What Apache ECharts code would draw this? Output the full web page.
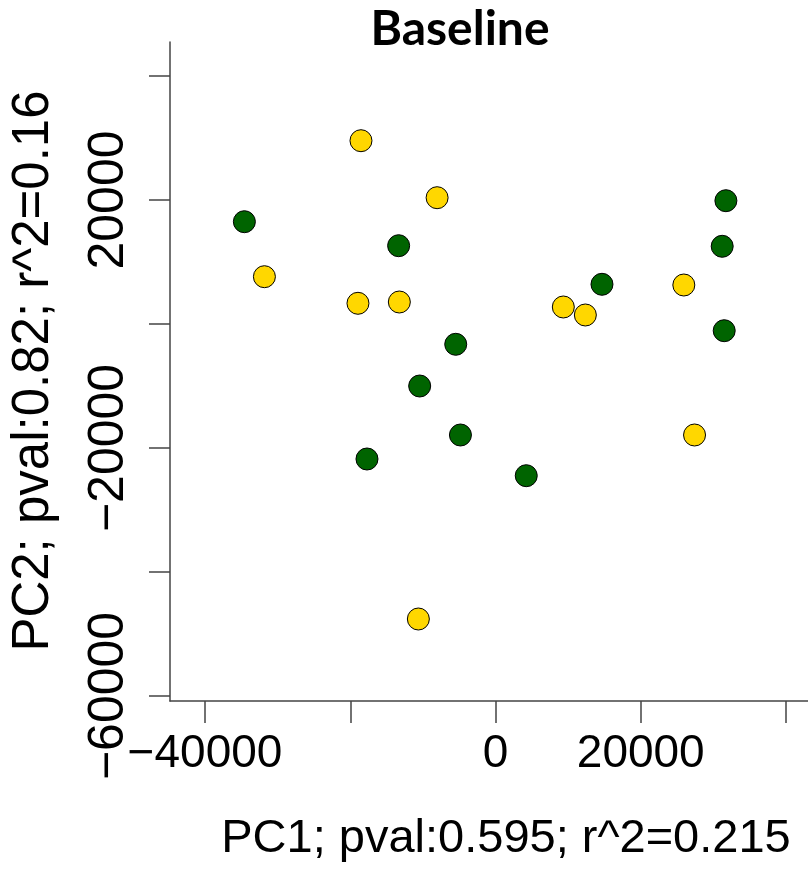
<!DOCTYPE html>
<html>
<head>
<meta charset="utf-8">
<script src="https://cdn.jsdelivr.net/npm/echarts@6/dist/echarts.min.js"></script>
<style>
html,body{margin:0;padding:0;background:#fff;}
#chart{width:808px;height:879px;}
</style>
</head>
<body>
<div id="chart"></div>
<script>
// ---- Data ----
var yellowPC1 = [-18524, -8041, -31820, -18938, -13241, 9338, 12372, 25931, 27407, -10621];
var yellowPC2 = [29565, 20371, 7629, 3339, 3548, 2742, 1452, 6290, -17903, -47581];
var greenPC1 = [-34579, -13338, 31724, 31214, 14662, 31490, -5476, -10441, -4828, -17696, 4234];
var greenPC2 = [16500, 12629, 19887, 12532, 6403, -1081, -3274, -10000, -17903, -21774, -24468];
var xTicks = [-40000, -20000, 0, 20000, 40000];
var yTicks = [-60000, -40000, -20000, 0, 20000, 40000];
var xLabelsShown = [-40000, 0, 20000];
var yLabelsShown = [-60000, -20000, 20000];
var titleText = 'Baseline';
var xTitle = 'PC1; pval:0.595; r^2=0.215';
var yTitle = 'PC2; pval:0.82; r^2=0.16';

function pairs(xs, ys){ return xs.map(function(x,i){ return [x, ys[i]]; }); }
function fmt(shown){
  return function(v){
    if (shown.indexOf(v) < 0) return '';
    return v < 0 ? '\u2212' + Math.abs(v) : String(v);
  };
}
var axisColor = '#444';
var labelFont = 'Liberation Sans';

var chart = echarts.init(document.getElementById('chart'), null, {renderer:'canvas'});
chart.setOption({
  backgroundColor: '#ffffff',
  animation: false,
  grid: [
    {left:170, top:42, right:0, bottom:178},
    {left:205, top:76, right:22, bottom:183}
  ],
  xAxis: [
    {gridIndex:0, type:'value', min:0, max:1, axisLine:{show:true, onZero:false, lineStyle:{color:axisColor, width:1.5}},
     axisTick:{show:false}, axisLabel:{show:false}, splitLine:{show:false}},
    {gridIndex:1, type:'value', min:xTicks[0], max:xTicks[xTicks.length-1], interval:20000, offset:5,
     axisLine:{show:false, onZero:false}, axisTick:{show:true, length:22, lineStyle:{color:axisColor, width:1.5}},
     axisLabel:{show:true, formatter:fmt(xLabelsShown), color:'#000', fontFamily:labelFont, fontSize:46, margin:30},
     splitLine:{show:false}}
  ],
  yAxis: [
    {gridIndex:0, type:'value', min:0, max:1, axisLine:{show:true, onZero:false, lineStyle:{color:axisColor, width:1.5}},
     axisTick:{show:false}, axisLabel:{show:false}, splitLine:{show:false}},
    {gridIndex:1, type:'value', min:yTicks[0], max:yTicks[yTicks.length-1], interval:20000, offset:35,
     axisLine:{show:false, onZero:false}, axisTick:{show:true, length:21, lineStyle:{color:axisColor, width:1.5}},
     axisLabel:{show:true, rotate:90, formatter:fmt(yLabelsShown), color:'#000', fontFamily:labelFont, fontSize:50, margin:36},
     splitLine:{show:false}}
  ],
  graphic: [
    {type:'text', x:460, y:30, style:{text:titleText, fill:'#000', font:'bold 48px Lato', align:'center', verticalAlign:'middle'}},
    {type:'text', x:506, y:839, style:{text:xTitle, fill:'#000', font:'47px "Liberation Sans"', align:'center', verticalAlign:'middle'}},
    {type:'text', x:33.5, y:371, rotation:Math.PI/2, style:{text:yTitle, fill:'#000', font:'51px "Liberation Sans"', align:'center', verticalAlign:'middle'}}
  ],
  series: [
    {type:'scatter', xAxisIndex:1, yAxisIndex:1, data:pairs(yellowPC1, yellowPC2), symbol:'circle', symbolSize:22,
     itemStyle:{color:'#FFD700', borderColor:'#000', borderWidth:1, opacity:1}},
    {type:'scatter', xAxisIndex:1, yAxisIndex:1, data:pairs(greenPC1, greenPC2), symbol:'circle', symbolSize:22,
     itemStyle:{color:'#006400', borderColor:'#000', borderWidth:1, opacity:1}}
  ]
});
</script>
</body>
</html>
